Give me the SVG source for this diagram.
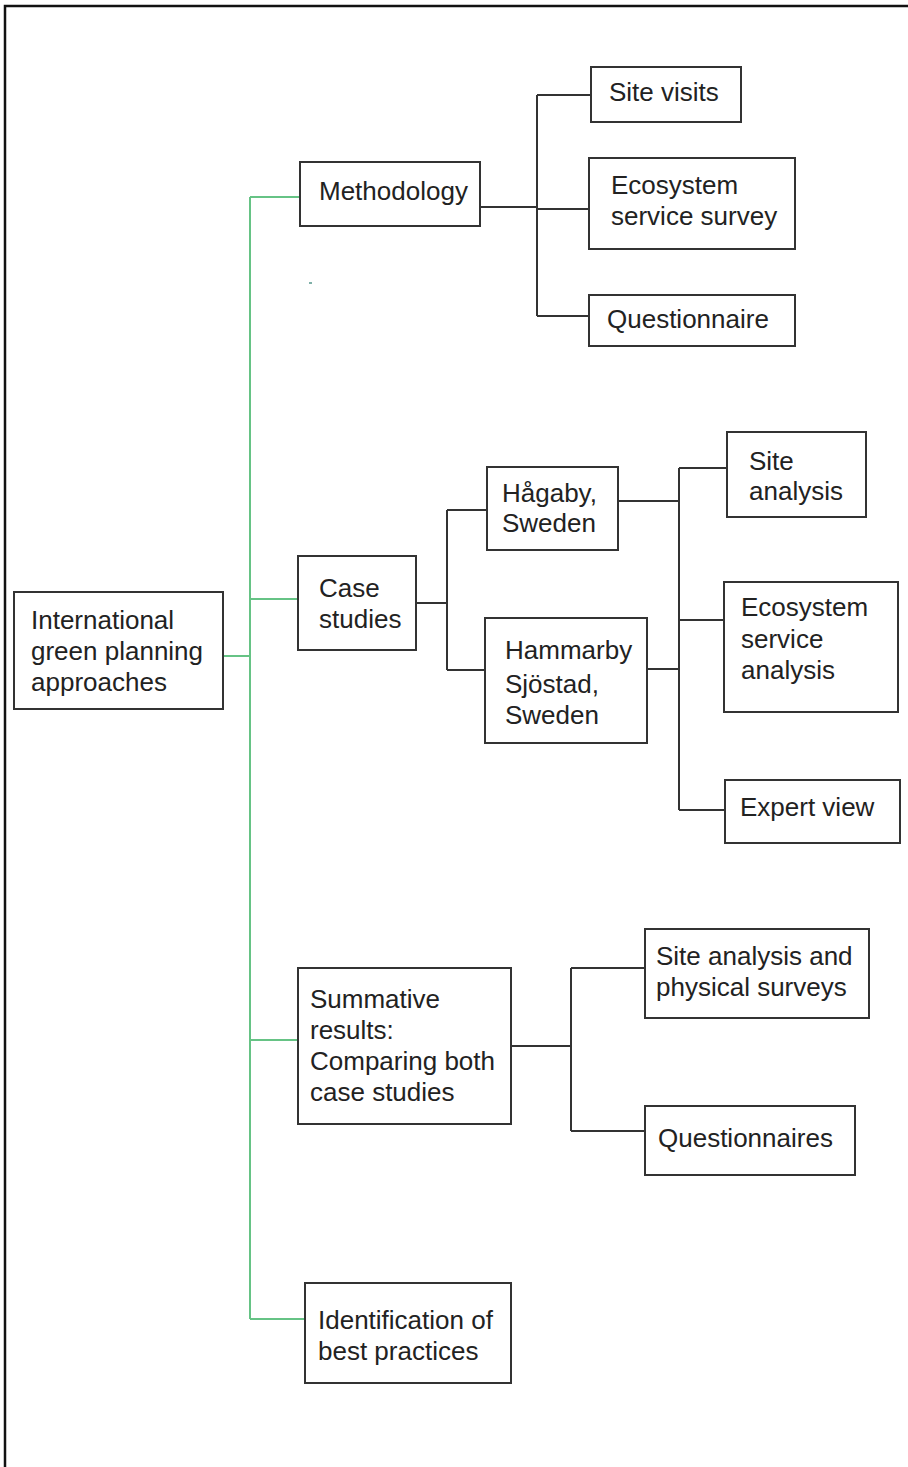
<svg xmlns="http://www.w3.org/2000/svg" width="908" height="1467" viewBox="0 0 908 1467">
  <style>
    .box { fill: #ffffff; stroke: #333333; stroke-width: 2; }
    .lbl { font-family: "Liberation Sans", Arial, sans-serif; font-size: 26px; fill: #222222; }
    .link { fill: none; stroke: #333333; stroke-width: 2; }
    .trunk { fill: none; stroke: #66c385; stroke-width: 2; }
  </style>
  <rect width="908" height="1467" fill="#ffffff"/>

  <!-- page frame -->
  <path d="M5,1467 V6 H908" fill="none" stroke="#111111" stroke-width="2.5"/>

  <!-- connectors -->
  <g id="connectors">
    <!-- main trunk -->
    <path class="trunk" d="M223,656 H250 M250,197 V1319 M250,197 H300 M250,599 H298 M250,1040 H298 M250,1319 H305"/>
    <!-- methodology branches -->
    <path class="link" d="M480,207 H537 M537,95 V316 M537,95 H591 M537,209 H589 M537,316 H589"/>
    <!-- case study branches -->
    <path class="link" d="M416,603 H447 M447,510 V670 M447,510 H487 M447,670 H485"/>
    <!-- case study analyses -->
    <path class="link" d="M618,501 H679 M647,669 H679 M679,468 V810 M679,468 H727 M679,620 H724 M679,810 H725"/>
    <!-- summative branches -->
    <path class="link" d="M511,1046 H571 M571,968 V1131 M571,968 H645 M571,1131 H645"/>
  </g>

  <!-- stray mark -->
  <rect x="309" y="282" width="3" height="2" fill="#7fb0a8"/>

  <g id="root">
    <rect class="box" x="14" y="592" width="209" height="117"/>
    <text class="lbl" x="31" y="629">International</text>
    <text class="lbl" x="31" y="660">green planning</text>
    <text class="lbl" x="31" y="691">approaches</text>
  </g>

  <g id="methodology">
    <rect class="box" x="300" y="162" width="180" height="64"/>
    <text class="lbl" x="319" y="200">Methodology</text>
  </g>

  <g id="site-visits">
    <rect class="box" x="591" y="67" width="150" height="55"/>
    <text class="lbl" x="609" y="101">Site visits</text>
  </g>

  <g id="eco-survey">
    <rect class="box" x="589" y="158" width="206" height="91"/>
    <text class="lbl" x="611" y="194">Ecosystem</text>
    <text class="lbl" x="611" y="225">service survey</text>
  </g>

  <g id="questionnaire">
    <rect class="box" x="589" y="295" width="206" height="51"/>
    <text class="lbl" x="607" y="328">Questionnaire</text>
  </g>

  <g id="case-studies">
    <rect class="box" x="298" y="556" width="118" height="94"/>
    <text class="lbl" x="319" y="597">Case</text>
    <text class="lbl" x="319" y="628">studies</text>
  </g>

  <g id="hagaby">
    <rect class="box" x="487" y="467" width="131" height="83"/>
    <text class="lbl" x="502" y="502">Hågaby,</text>
    <text class="lbl" x="502" y="532">Sweden</text>
  </g>

  <g id="hammarby">
    <rect class="box" x="485" y="618" width="162" height="125"/>
    <text class="lbl" x="505" y="659">Hammarby</text>
    <text class="lbl" x="505" y="693">Sjöstad,</text>
    <text class="lbl" x="505" y="724">Sweden</text>
  </g>

  <g id="site-analysis">
    <rect class="box" x="727" y="432" width="139" height="85"/>
    <text class="lbl" x="749" y="470">Site</text>
    <text class="lbl" x="749" y="500">analysis</text>
  </g>

  <g id="eco-analysis">
    <rect class="box" x="724" y="582" width="174" height="130"/>
    <text class="lbl" x="741" y="616">Ecosystem</text>
    <text class="lbl" x="741" y="648">service</text>
    <text class="lbl" x="741" y="679">analysis</text>
  </g>

  <g id="expert-view">
    <rect class="box" x="725" y="780" width="175" height="63"/>
    <text class="lbl" x="740" y="816">Expert view</text>
  </g>

  <g id="summative">
    <rect class="box" x="298" y="968" width="213" height="156"/>
    <text class="lbl" x="310" y="1008">Summative</text>
    <text class="lbl" x="310" y="1039">results:</text>
    <text class="lbl" x="310" y="1070">Comparing both</text>
    <text class="lbl" x="310" y="1101">case studies</text>
  </g>

  <g id="site-physical">
    <rect class="box" x="645" y="929" width="224" height="89"/>
    <text class="lbl" x="656" y="965">Site analysis and</text>
    <text class="lbl" x="656" y="996">physical surveys</text>
  </g>

  <g id="questionnaires">
    <rect class="box" x="645" y="1106" width="210" height="69"/>
    <text class="lbl" x="658" y="1147">Questionnaires</text>
  </g>

  <g id="best-practices">
    <rect class="box" x="305" y="1283" width="206" height="100"/>
    <text class="lbl" x="318" y="1329">Identification of</text>
    <text class="lbl" x="318" y="1360">best practices</text>
  </g>
</svg>
